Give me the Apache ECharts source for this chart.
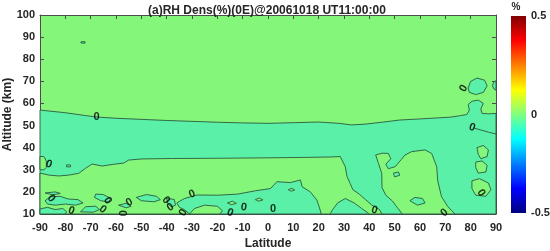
<!DOCTYPE html>
<html>
<head>
<meta charset="utf-8">
<script src="https://cdn.jsdelivr.net/npm/echarts@6/dist/echarts.min.js"></script>
<style>
  html, body { margin: 0; padding: 0; background: #fff; }
  #chart { width: 550px; height: 251px; }
</style>
</head>
<body>
<div id="chart"></div>
<script>
// contour field as [latitude, altitude] outlines
var bandTop = [[-90,57],[-80,55.8],[-72,54.5],[-67,53.8],[-60,53.3],[-50,52.8],[-40,52.3],[-30,51.9],
  [-20,51.5],[-10,51.2],[0,51],[10,51.3],[20,51.6],[28,51],[33,50.3],[38,50.6],[45,51.5],[52,52.5],
  [60,53],[66,53.4],[72,53.8],[76,54.5],[78.5,55],[79.5,57],[79,59.5],[80.5,61],[83,61.5],[85,60],
  [84,57.5],[84.5,55.5],[87,55.3],[90,55.5],[90,10],[-90,10]];

var greenLow = [[-90,28.5],[-86.5,27.6],[-82.6,27.2],[-78.6,27.6],[-74.7,28.4],[-72,30.7],[-69.4,32.6],
  [-65.5,31.7],[-60.2,32.6],[-57,33],[-55,34.4],[-49.7,34.9],[-38,35.1],[-20,35.2],[0,35.4],[15,35.6],
  [25,35.8],[28.5,36],[30.5,31.4],[31.2,26.9],[32.4,23.9],[33.5,21],[36,19],[38.5,16.5],[41,14],[44,12],
  [45,10],[40,10],[37,12.5],[34,15],[30.5,17],[27.5,15],[25.5,12],[24.5,10],[21,10],[20.6,11.8],
  [19.3,16.3],[16.7,20],[13.5,22.3],[12.8,25.4],[8.8,24.2],[3.5,24.6],[1,21.5],[-5,20.5],[-12,19],
  [-20,18.5],[-28,18.6],[-33,17],[-36,15],[-35,13],[-33,12],[-31,10],[-90,10]];

var greenLobe = [[42.5,36.7],[45,37.5],[47.5,37.4],[48.5,35],[46.5,32.5],[47.5,30.5],[50.2,31.4],
  [52.5,34.5],[54.1,36.7],[56.7,38.2],[62,39],[64.6,37.4],[66.6,31.4],[67,25],[68.5,17.8],[71,13.3],
  [73.8,10],[53,10],[51,13],[49,16],[46.5,18.5],[45,22],[44.9,28.4],[43.6,32.9]];

var tealPatches = [
  [[-90,10],[-90,12.3],[-87,13],[-84,12],[-81,12.5],[-79.5,11],[-80,10]],
  [[-88,16],[-86,17.8],[-82,18],[-79,16.8],[-75,16.5],[-73,15],[-76,14],[-80,14.5],[-84,14],[-87,14.5]],
  [[-88,19.5],[-84,20],[-82,19.3],[-85,18.7]],
  [[-74,11],[-72,13.3],[-68,13.5],[-66.5,12],[-69,10.8]],
  [[-68,19],[-65,18.8],[-62,17],[-63,15.5],[-66,16],[-68.5,17.5]],
  [[-59,14],[-56,14.8],[-54,13.5],[-56,12.8]],
  [[-52,17.5],[-48,18.8],[-44,18],[-42.5,16.5],[-45,15.5],[-50,16]],
  [[-40,17],[-37,16.6],[-36.5,14],[-38,13.2],[-39.5,14.5]],
  [[49.5,28.5],[51.5,29],[52,27.5],[50,26.8]],
  [[56,16],[58,17.5],[61,17],[62,15],[59,14]],
  [[79,67],[80,70],[82.5,71.5],[85.5,70.5],[86.5,68],[85,65],[82,64],[79.5,65]],
  [[90,70.3],[89,69.5],[88.6,68],[89.2,66.5],[90,66]],
  [[-73.8,87.3],[-72.2,87.3],[-72.2,87.9],[-73.8,87.9]]
];

var greenPatches = [
  [[-90,36],[-88.5,36],[-87.5,34],[-87.5,31],[-88.5,30],[-90,30]],
  [[-31,10],[-29,12.5],[-25,14],[-20,13.5],[-18,11.5],[-19,10]],
  [[-16,15],[-14,15.8],[-12.5,14.8],[-14.5,14.2]],
  [[-5,16.5],[-3.5,17.2],[-2,16.4],[-3.6,15.8]],
  [[82.5,40],[85,41],[87,39],[86.5,36],[84,35],[83,37]],
  [[82,33.5],[84.5,34],[86.5,32],[86,29],[83,28.5],[82,31]],
  [[80.5,25],[83.5,26],[87,24],[88,21],[86,18],[82,18.5],[80.5,21.5]],
  [[-79.5,31.3],[-78,31.3],[-78,32.2],[-79.5,32.2]],
  [[8,21],[9.5,21.6],[10.5,20.8],[9,20.3]]
];

var innerLine = [[81.5,48.8],[84,48],[87,47],[90,46.2]];

// contour labels "0": [lat, alt]
var zeroLabels = [[-86.5,32.5],[-85.5,17.1],[-77.6,11.5],[-65.2,12.1],[-63.3,16],[-54.7,15.3],
  [-56.7,10.4],[-40.2,16.3],[-38.5,13],[-33.5,10.6],[-30,19],[-14.9,10.6],[-9.6,13],[2,12.1],
  [42,11.8],[69.6,10.6],[84.1,19.6],[80.6,49.2],[77.2,66.8],[-67.7,53.7]];
var zeroAngles = [-20,-50,-20,-40,-60,30,90,-50,30,60,20,-20,-10,0,-15,40,-60,-20,60,0];

var latTicks = [-90, 90, 10];
var altTicks = [10, 100, 10];
var barTicks = [-0.5, 0.5, 0.5];

var GREEN = '#84F67A', TEAL = '#5AF0A8', LINE = '#2a5a40';
var FONT = "'Liberation Sans', Arial, sans-serif";
var jet = [[0,'#000080'],[0.125,'#0000FF'],[0.375,'#00FFFF'],[0.625,'#FFFF00'],[0.875,'#FF0000'],[1,'#800000']];

function polySeries(polys, fill, z) {
  return {
    type: 'custom', xAxisIndex: 0, yAxisIndex: 0, z: z, silent: true,
    data: polys.map(function (p) { return p[0]; }),
    renderItem: function (params, api) {
      var pts = polys[params.dataIndex].map(function (p) { return api.coord(p); });
      return {type: 'polygon', shape: {points: pts},
        style: {fill: fill, stroke: LINE, lineWidth: 0.9}};
    }
  };
}

var chart = echarts.init(document.getElementById('chart'));
var tickLbl = {fontFamily: FONT, fontWeight: 'bold', fontSize: 11, color: '#262626'};
var axLine = {show: true, onZero: false, lineStyle: {color: '#4d4d4d', width: 1}};
var tick = {inside: true, length: 4, lineStyle: {color: '#4d4d4d'}};
var option = {
  animation: false,
  title: {
    text: '(a)RH Dens(%)(0E)@20061018 UT11:00:00', left: 143, top: 0,
    textStyle: {fontFamily: FONT, fontWeight: 'bold', fontSize: 12, color: '#262626'}
  },
  grid: [
    {left: 40, right: 54, top: 15, bottom: 37, show: true, backgroundColor: GREEN, borderWidth: 0,
      outerBoundsMode: 'none', containLabel: false},
    {left: 511, width: 15, top: 16, bottom: 38, outerBoundsMode: 'none', containLabel: false}
  ],
  xAxis: [
    {type: 'value', gridIndex: 0, min: latTicks[0], max: latTicks[1], interval: latTicks[2],
      name: 'Latitude', nameLocation: 'middle', nameGap: 24, nameMoveOverlap: false,
      nameTextStyle: {fontFamily: FONT, fontWeight: 'bold', fontSize: 12, color: '#262626'},
      axisLine: axLine, axisTick: tick,
      axisLabel: Object.assign({margin: 8}, tickLbl), splitLine: {show: false}},
    {type: 'value', gridIndex: 0, position: 'top', min: latTicks[0], max: latTicks[1], interval: latTicks[2],
      axisLine: axLine, axisTick: tick, axisLabel: {show: false}, splitLine: {show: false}},
    {type: 'value', gridIndex: 1, min: 0, max: 1, show: false}
  ],
  yAxis: [
    {type: 'value', gridIndex: 0, min: altTicks[0], max: altTicks[1], interval: altTicks[2],
      name: 'Altitude (km)', nameLocation: 'middle', nameGap: 26, nameMoveOverlap: false,
      nameTextStyle: {fontFamily: FONT, fontWeight: 'bold', fontSize: 12, color: '#262626'},
      axisLine: axLine, axisTick: tick,
      axisLabel: Object.assign({margin: 5}, tickLbl), splitLine: {show: false}},
    {type: 'value', gridIndex: 0, position: 'right', min: altTicks[0], max: altTicks[1], interval: altTicks[2],
      axisLine: axLine, axisTick: tick, axisLabel: {show: false}, splitLine: {show: false}},
    {type: 'value', gridIndex: 1, position: 'right', min: barTicks[0], max: barTicks[1], interval: barTicks[2],
      name: '%', nameLocation: 'end', nameGap: 4,
      nameTextStyle: {fontFamily: FONT, fontWeight: 'bold', fontSize: 10, color: '#262626', align: 'center', padding: [0, 20, 0, 0]},
      axisLine: {show: false, onZero: false}, axisTick: {show: false}, splitLine: {show: false},
      axisLabel: Object.assign({margin: 5}, tickLbl)}
  ],
  series: [
    polySeries([bandTop], TEAL, 1),
    polySeries([greenLow, greenLobe], GREEN, 2),
    polySeries(tealPatches, TEAL, 3),
    polySeries(greenPatches, GREEN, 3),
    {type: 'line', xAxisIndex: 0, yAxisIndex: 0, z: 4, data: innerLine, showSymbol: false, silent: true,
      lineStyle: {color: LINE, width: 0.9}},
    {type: 'scatter', xAxisIndex: 0, yAxisIndex: 0, z: 6, symbolSize: 0, silent: true,
      data: zeroLabels.map(function (p, i) {
        return {value: p, label: {rotate: zeroAngles[i]}};
      }),
      label: {show: true, position: 'inside', formatter: '0',
        fontFamily: FONT, fontWeight: 'bold', fontSize: 11, color: '#000'}},
    {type: 'custom', xAxisIndex: 2, yAxisIndex: 2, silent: true, data: [[0, 0]],
      renderItem: function (params, api) {
        var cs = params.coordSys;
        return {type: 'rect', shape: {x: cs.x, y: cs.y, width: cs.width, height: cs.height},
          style: {fill: new echarts.graphic.LinearGradient(0, 1, 0, 0,
            jet.map(function (s) { return {offset: s[0], color: s[1]}; }))}};
      }}
  ]
};
chart.setOption(option);
</script>
</body>
</html>
